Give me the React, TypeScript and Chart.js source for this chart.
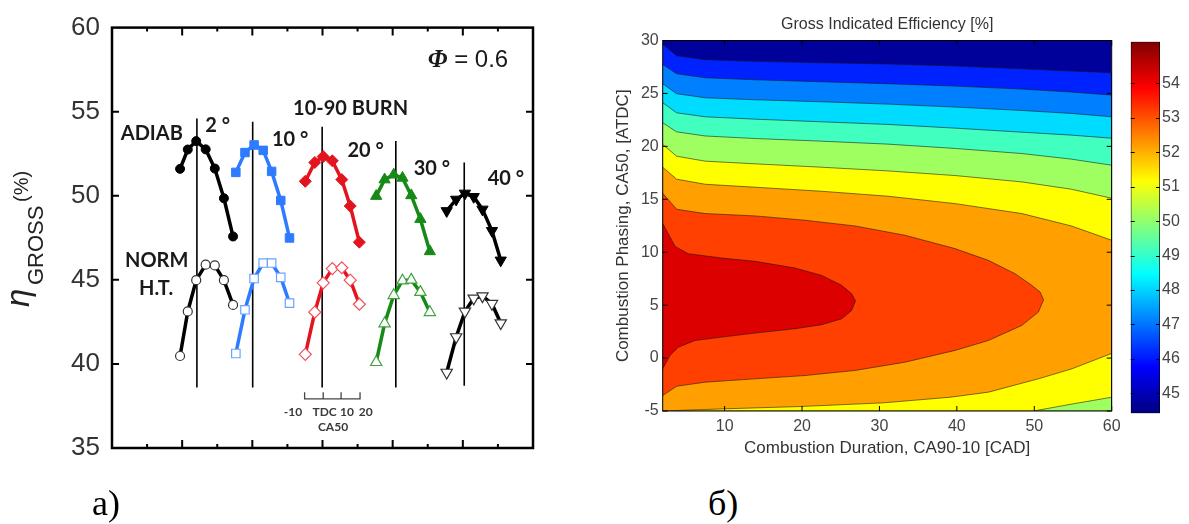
import React, { useEffect, useRef } from 'react';
import { Chart, registerables } from 'chart.js';

Chart.register(...registerables);

// ================= Panel (a) data =================
const A_Y_TICKS = [35, 40, 45, 50, 55, 60];
const A_Y_INNER_TICKS = [40, 45, 50, 55];
const A_X_MAJOR = [2, 4, 6, 8, 10];
const A_X_MINOR = [1, 3, 5, 7, 9, 11];

// x position (panel units) of the CA50 sweep points for each 10-90 burn duration
const X_2 = [1.94, 2.16, 2.4, 2.67, 2.93, 3.19, 3.45];
const X_10 = [3.53, 3.79, 4.05, 4.31, 4.55, 4.81, 5.06];
const X_20 = [5.51, 5.78, 6.02, 6.28, 6.55, 6.79, 7.05];
const X_30 = [7.53, 7.77, 8.03, 8.28, 8.53, 8.79, 9.06];
const X_40 = [9.54, 9.81, 10.06, 10.31, 10.56, 10.83, 11.08];

// adiabatic efficiency (%)
const ADIAB_2 = [51.6, 52.75, 53.25, 52.76, 51.62, 49.85, 47.58];
const ADIAB_10 = [51.39, 52.57, 53.02, 52.7, 51.45, 49.72, 47.49];
const ADIAB_20 = [50.86, 51.98, 52.33, 52.08, 50.96, 49.39, 47.24];
const ADIAB_30 = [49.98, 50.96, 51.25, 51.06, 50.02, 48.61, 46.69];
const ADIAB_40 = [49.1, 49.78, 50.14, 49.94, 49.19, 47.92, 46.16];

// normal heat transfer efficiency (%)
const NORM_2 = [40.47, 43.12, 44.98, 45.9, 45.86, 44.98, 43.51];
const NORM_10 = [40.62, 43.22, 45.08, 46.0, 46.0, 45.15, 43.62];
const NORM_20 = [40.57, 43.08, 44.82, 45.67, 45.72, 44.98, 43.55];
const NORM_30 = [40.1, 42.4, 44.08, 44.95, 45.0, 44.27, 43.07];
const NORM_40 = [39.49, 41.6, 43.12, 43.9, 44.03, 43.58, 42.43];

// TDC reference lines
const TDC_X = [2.42, 4.01, 5.99, 8.09, 10.04];
const TDC_TOP = [54.6, 54.4, 54.1, 53.25, 51.98];
const TDC_BOTTOM = [38.6, 38.6, 38.6, 38.6, 38.7];

// CA50 scale bar
const CA50_SCALE_X = [5.49, 6.02, 6.53, 7.07];
const CA50_SCALE_LABELS = ['-10', 'TDC', '10', '20'];
const CA50_LABEL_X = [5.16, 6.06, 6.7, 7.23];
const CA50_SCALE_BASE = 37.92;
const CA50_SCALE_TOP = 38.31;

const A_LABELS = [
  { text: 'ADIAB', x: 0.25, y: 53.31 },
  { text: '10-90 BURN', x: 5.16, y: 54.78 },
  { text: '2 °', x: 2.66, y: 53.82 },
  { text: '10 °', x: 4.56, y: 52.94 },
  { text: '20 °', x: 6.71, y: 52.29 },
  { text: '30 °', x: 8.6, y: 51.24 },
  { text: '40 °', x: 10.71, y: 50.65 },
  { text: 'NORM', x: 0.37, y: 45.76 },
  { text: 'H.T.', x: 0.77, y: 44.12 },
];

// ================= Panel (b) data =================
const B_X_TICKS = [10, 20, 30, 40, 50, 60];
const B_Y_TICKS = [-5, 0, 5, 10, 15, 20, 25, 30];
const B_X_MIN = 2;
const B_X_MAX = 60;
const B_Y_MIN = -5;
const B_Y_MAX = 30;
const B_TITLE = 'Gross Indicated Efficiency [%]';
const B_X_TITLE = 'Combustion Duration, CA90-10 [CAD]';
const B_Y_TITLE = 'Combustion Phasing, CA50, [ATDC]';

// contour boundaries sampled at these durations (upper band boundaries)
const CONTOUR_X = [2, 3.8, 7.5, 13.9, 22.5, 31.1, 39.8, 48.4, 54.8, 60];
const L1_Y = [29.64, 28.56, 28.19, 28.03, 27.9, 27.78, 27.59, 27.33, 27.11, 26.96];
const L2_Y = [27.74, 26.86, 26.48, 26.29, 26.1, 25.92, 25.69, 25.41, 25.13, 24.84];
const L3_Y = [25.92, 24.97, 24.59, 24.4, 24.21, 23.99, 23.71, 23.39, 23.11, 22.79];
const L4_Y = [24.12, 23.17, 22.79, 22.57, 22.32, 22.07, 21.72, 21.34, 21.06, 20.77];
const L5_Y = [22.23, 21.37, 20.98, 20.74, 20.49, 20.21, 19.8, 19.32, 18.79, 18.22];
const L6_Y = [20.18, 19.07, 18.6, 18.35, 18.03, 17.68, 17.24, 16.64, 15.95, 15.1];
const L7_Y = [18.03, 16.9, 16.42, 16.14, 15.76, 15.29, 14.59, 13.65, 12.48, 11.13];

// lower boundaries (bottom of the map)
const L6_LOW_X = [60, 55.05, 49.89];
const L6_LOW_Y = [-3.7, -4.32, -5];
const L7_LOW_X = [60, 54.84, 50.53, 44.07, 39.12, 30.5, 19.74, 9.79, 2];
const L7_LOW_Y = [0.44, -1.02, -1.96, -3.22, -3.7, -4.23, -4.58, -4.8, -5];

// closed lobes (53 and 54 % levels)
const L8_X = [2, 3.8, 7.47, 13.93, 20.38, 26.84, 33.3, 39.76, 44.07, 47.52, 49.67, 50.75, 51.2,
  50.53, 48.38, 44.07, 39.76, 33.3, 26.84, 20.38, 13.93, 7.47, 3.8, 2];
const L8_Y = [15.57, 14.06, 13.65, 13.43, 13.02, 12.48, 11.6, 10.34, 9.23, 7.97, 6.87, 6.24, 5.5,
  4.35, 3.08, 1.66, 0.72, -0.39, -1.17, -1.65, -1.96, -2.28, -2.66, -3.54];
const L9_X = [2, 3.6, 5.3, 9.62, 13.93, 19.09, 22.54, 25.12, 26.41, 26.9,
  26.41, 25.12, 22.54, 19.09, 13.93, 9.62, 6.17, 4.02, 2.94, 2];
const L9_Y = [12.73, 10.55, 9.86, 9.45, 9.14, 8.51, 7.81, 6.87, 6.08, 5.4,
  4.5, 3.71, 3.15, 2.77, 2.36, 1.98, 1.66, 1.03, 0.25, -1.02];

const REGION_COLORS = ['#00009a', '#0022ff', '#0080ff', '#00dcff', '#40ffbf', '#a0ff60', '#ffff00', '#ffa000', '#ff4000', '#dc0000'];

// colorbar
const CB_MIN = 44.42;
const CB_MAX = 55.21;
const CB_TICKS = [45, 46, 47, 48, 49, 50, 51, 52, 53, 54];
const JET_STOPS: [number, string][] = [
  [0, '#000080'], [0.125, '#0000ff'], [0.375, '#00ffff'], [0.625, '#ffff00'], [0.875, '#ff0000'], [1, '#800000'],
];

// ================= helpers =================
const pts = (xs: number[], ys: number[]) => xs.map((x, i) => ({ x, y: ys[i] }));
const SANS = '"Liberation Sans", Arial, sans-serif';

const SERIES_STYLE = [
  { color: '#000000', open: '#333333', pointStyle: 'circle', rotation: 0, radius: 4.5 },
  { color: '#2e7bff', open: '#6aa3ff', pointStyle: 'rect', rotation: 0, radius: 6 },
  { color: '#e4141e', open: '#f0505a', pointStyle: 'rectRot', rotation: 0, radius: 6 },
  { color: '#168a16', open: '#3fa33f', pointStyle: 'triangle', rotation: 0, radius: 6.5 },
  { color: '#000000', open: '#333333', pointStyle: 'triangle', rotation: 180, radius: 6.5 },
];
const GROUP_X = [X_2, X_10, X_20, X_30, X_40];
const ADIAB = [ADIAB_2, ADIAB_10, ADIAB_20, ADIAB_30, ADIAB_40];
const NORM = [NORM_2, NORM_10, NORM_20, NORM_30, NORM_40];

function buildA() {
  const datasets: any[] = [];
  GROUP_X.forEach((xs, g) => {
    const s = SERIES_STYLE[g];
    datasets.push({
      data: pts(xs, ADIAB[g]), showLine: true, borderColor: s.color, borderWidth: 3.5,
      pointStyle: s.pointStyle, pointRotation: s.rotation, pointRadius: s.radius,
      pointBackgroundColor: s.color, pointBorderColor: s.color, pointBorderWidth: 1,
    });
    datasets.push({
      data: pts(xs, NORM[g]), showLine: true, borderColor: s.color, borderWidth: 3.5,
      pointStyle: s.pointStyle, pointRotation: s.rotation, pointRadius: s.radius,
      pointBackgroundColor: '#ffffff', pointBorderColor: s.open, pointBorderWidth: 1.2,
    });
  });
  TDC_X.forEach((x, i) => {
    datasets.push({
      data: [{ x, y: TDC_TOP[i] }, { x, y: TDC_BOTTOM[i] }], showLine: true,
      borderColor: '#000', borderWidth: 1.6, pointRadius: 0,
    });
  });
  const bar: any[] = [{ x: CA50_SCALE_X[0], y: CA50_SCALE_TOP }, { x: CA50_SCALE_X[0], y: CA50_SCALE_BASE }];
  for (let i = 1; i < CA50_SCALE_X.length; i++) {
    bar.push({ x: CA50_SCALE_X[i], y: CA50_SCALE_BASE }, { x: CA50_SCALE_X[i], y: CA50_SCALE_TOP }, { x: CA50_SCALE_X[i], y: CA50_SCALE_BASE });
  }
  datasets.push({ data: bar, showLine: true, borderColor: '#444', borderWidth: 1.3, pointRadius: 0 });

  const plugin = {
    id: 'panelA',
    afterDatasetsDraw(chart: any) {
      const { ctx, scales: { x, y } } = chart;
      ctx.save();
      ctx.fillStyle = '#1a1a1a';
      ctx.textAlign = 'left';
      ctx.textBaseline = 'alphabetic';
      ctx.font = 'bold 20px Lato, "Open Sans", sans-serif';
      A_LABELS.forEach((l) => ctx.fillText(l.text, x.getPixelForValue(l.x), y.getPixelForValue(l.y)));
      // phi label
      const px = x.getPixelForValue(9.0);
      const py = y.getPixelForValue(57.65);
      ctx.font = 'italic bold 25px "Liberation Serif", serif';
      ctx.fillText('Φ', px, py);
      const w = ctx.measureText('Φ').width;
      ctx.font = '24px ' + SANS;
      ctx.fillText(' = 0.6', px + w, py);
      // CA50 scale labels
      ctx.fillStyle = '#3a3a3a';
      ctx.textAlign = 'center';
      ctx.font = 'bold 12px Lato, sans-serif';
      CA50_LABEL_X.forEach((v, i) => ctx.fillText(CA50_SCALE_LABELS[i], x.getPixelForValue(v), y.getPixelForValue(36.91)));
      ctx.fillText('CA50', x.getPixelForValue(6.3), y.getPixelForValue(36.03));
      ctx.restore();
    },
    afterDraw(chart: any) {
      const { ctx, chartArea: ca, scales: { x, y } } = chart;
      ctx.save();
      ctx.strokeStyle = '#000';
      ctx.lineWidth = 2.5;
      ctx.strokeRect(ca.left, ca.top, ca.width, ca.height);
      ctx.lineWidth = 2;
      ctx.beginPath();
      A_X_MAJOR.forEach((v) => {
        const p = x.getPixelForValue(v);
        ctx.moveTo(p, ca.bottom); ctx.lineTo(p, ca.bottom - 8);
        ctx.moveTo(p, ca.top); ctx.lineTo(p, ca.top + 8);
      });
      A_X_MINOR.forEach((v) => {
        const p = x.getPixelForValue(v);
        ctx.moveTo(p, ca.bottom); ctx.lineTo(p, ca.bottom - 4);
        ctx.moveTo(p, ca.top); ctx.lineTo(p, ca.top + 4);
      });
      A_Y_INNER_TICKS.forEach((v) => {
        const p = y.getPixelForValue(v);
        ctx.moveTo(ca.left, p); ctx.lineTo(ca.left + 7, p);
        ctx.moveTo(ca.right, p); ctx.lineTo(ca.right - 7, p);
      });
      ctx.stroke();
      // y axis title
      ctx.translate(29, 307);
      ctx.rotate(-Math.PI / 2);
      ctx.fillStyle = '#222';
      ctx.textAlign = 'left';
      ctx.textBaseline = 'alphabetic';
      ctx.font = 'italic 33px ' + SANS;
      ctx.fillText('η', 0, 0);
      ctx.font = '22px ' + SANS;
      ctx.fillText('GROSS', 22, 14);
      ctx.font = '20px ' + SANS;
      ctx.fillText('(%)', 105, -1);
      ctx.restore();
    },
  };

  return {
    type: 'scatter',
    data: { datasets },
    options: {
      responsive: false,
      animation: false,
      devicePixelRatio: 1,
      layout: { padding: { left: 0, top: 23, right: 27, bottom: 76 } },
      plugins: { legend: { display: false }, tooltip: { enabled: false } },
      scales: {
        x: { type: 'linear', min: 0, max: 12, display: false },
        y: {
          type: 'linear', min: 35, max: 60,
          afterFit: (s: any) => { s.width = 112; },
          afterBuildTicks: (s: any) => { s.ticks = A_Y_TICKS.map((v) => ({ value: v })); },
          grid: { display: false, drawTicks: false },
          border: { display: false },
          ticks: { font: { family: SANS, size: 26 }, color: '#333', padding: 12 },
        },
      },
    },
    plugins: [plugin],
  };
}

function buildB() {
  const corner = (x: number, y: number) => ({ x, y });
  const band = (ys: number[]) => [...pts(CONTOUR_X, ys), corner(B_X_MAX, B_Y_MIN), corner(B_X_MIN, B_Y_MIN)];
  const polys = [
    [corner(B_X_MIN, B_Y_MAX), corner(B_X_MAX, B_Y_MAX), corner(B_X_MAX, B_Y_MIN), corner(B_X_MIN, B_Y_MIN)],
    band(L1_Y),
    band(L2_Y),
    band(L3_Y),
    band(L4_Y),
    band(L5_Y),
    [...pts(CONTOUR_X, L6_Y), ...pts(L6_LOW_X, L6_LOW_Y), corner(B_X_MIN, B_Y_MIN)],
    [...pts(CONTOUR_X, L7_Y), ...pts(L7_LOW_X, L7_LOW_Y)],
    pts(L8_X, L8_Y),
    pts(L9_X, L9_Y),
  ];
  const datasets = polys.map((p, i) => ({
    data: p,
    showLine: true,
    fill: 'shape',
    backgroundColor: REGION_COLORS[i],
    borderColor: 'rgba(20,20,20,0.7)',
    borderWidth: i === 0 ? 0 : 0.8,
    pointRadius: 0,
    tension: 0,
  })).reverse();

  const plugin = {
    id: 'panelB',
    afterDraw(chart: any) {
      const { ctx, chartArea: ca, scales: { x, y } } = chart;
      ctx.save();
      ctx.strokeStyle = '#000';
      ctx.lineWidth = 1;
      ctx.strokeRect(ca.left, ca.top, ca.width, ca.height);
      ctx.beginPath();
      B_X_TICKS.forEach((v) => {
        const p = x.getPixelForValue(v);
        ctx.moveTo(p, ca.bottom); ctx.lineTo(p, ca.bottom - 5);
        ctx.moveTo(p, ca.top); ctx.lineTo(p, ca.top + 5);
      });
      B_Y_TICKS.forEach((v) => {
        const p = y.getPixelForValue(v);
        ctx.moveTo(ca.left, p); ctx.lineTo(ca.left + 5, p);
        ctx.moveTo(ca.right, p); ctx.lineTo(ca.right - 5, p);
      });
      ctx.stroke();
      ctx.fillStyle = '#333';
      ctx.textAlign = 'center';
      ctx.textBaseline = 'alphabetic';
      const cx = (ca.left + ca.right) / 2;
      ctx.font = '16px ' + SANS;
      ctx.fillText(B_TITLE, cx, 29);
      ctx.font = '17px ' + SANS;
      ctx.fillText(B_X_TITLE, cx, 453);
      ctx.translate(67.5, (ca.top + ca.bottom) / 2);
      ctx.rotate(-Math.PI / 2);
      ctx.fillText(B_Y_TITLE, 0, 0);
      ctx.restore();
    },
  };

  return {
    type: 'scatter',
    data: { datasets },
    options: {
      responsive: false,
      animation: false,
      devicePixelRatio: 1,
      layout: { padding: { left: 42.7, top: 40.5, right: 28.3, bottom: 29 } },
      plugins: { legend: { display: false }, tooltip: { enabled: false } },
      scales: {
        x: {
          type: 'linear', min: B_X_MIN, max: B_X_MAX,
          afterFit: (s: any) => { s.height = 40; },
          afterBuildTicks: (s: any) => { s.ticks = B_X_TICKS.map((v) => ({ value: v })); },
          grid: { display: false, drawTicks: false },
          border: { display: false },
          ticks: { font: { family: SANS, size: 16 }, color: '#444', padding: 6, maxRotation: 0, autoSkip: false },
        },
        y: {
          type: 'linear', min: B_Y_MIN, max: B_Y_MAX,
          afterFit: (s: any) => { s.width = 60; },
          afterBuildTicks: (s: any) => { s.ticks = B_Y_TICKS.map((v) => ({ value: v })); },
          grid: { display: false, drawTicks: false },
          border: { display: false },
          ticks: { font: { family: SANS, size: 16 }, color: '#444', padding: 4, autoSkip: false },
        },
      },
    },
    plugins: [plugin],
  };
}

function buildC() {
  const jetFill = (c: any) => {
    const chart = c.chart;
    const ys = chart.scales && chart.scales.y;
    if (!chart.chartArea || !ys) return '#888';
    const g = chart.ctx.createLinearGradient(0, ys.getPixelForValue(CB_MIN), 0, ys.getPixelForValue(CB_MAX));
    JET_STOPS.forEach(([t, col]) => g.addColorStop(t, col));
    return g;
  };
  const plugin = {
    id: 'cbTicks',
    afterDraw(chart: any) {
      const { ctx, chartArea: ca, scales: { y } } = chart;
      ctx.save();
      ctx.strokeStyle = '#000';
      ctx.lineWidth = 1;
      ctx.beginPath();
      CB_TICKS.forEach((v) => {
        const p = Math.round(y.getPixelForValue(v)) + 0.5;
        ctx.moveTo(ca.left, p); ctx.lineTo(ca.left + 4, p);
        ctx.moveTo(ca.right, p); ctx.lineTo(ca.right - 4, p);
      });
      ctx.stroke();
      ctx.restore();
    },
  };
  return {
    type: 'bar',
    data: {
      labels: [''],
      datasets: [{
        data: [[CB_MIN, CB_MAX]],
        backgroundColor: jetFill,
        borderColor: '#000',
        borderWidth: 1,
        borderSkipped: false,
        barPercentage: 1,
        categoryPercentage: 1,
      }],
    },
    options: {
      responsive: false,
      animation: false,
      devicePixelRatio: 1,
      layout: { padding: { left: 10.7, top: 41.7, right: 0, bottom: 470 - 413.3 } },
      plugins: { legend: { display: false }, tooltip: { enabled: false } },
      scales: {
        x: { display: false },
        y: {
          position: 'right', min: CB_MIN, max: CB_MAX,
          afterFit: (s: any) => { s.width = 29; },
          afterBuildTicks: (s: any) => { s.ticks = CB_TICKS.map((v) => ({ value: v })); },
          grid: { display: false, drawTicks: false },
          border: { display: false },
          ticks: { font: { family: SANS, size: 16 }, color: '#444', padding: 2, autoSkip: false },
        },
      },
    },
    plugins: [plugin],
  };
}

export default function App() {
  const aRef = useRef<HTMLCanvasElement>(null);
  const bRef = useRef<HTMLCanvasElement>(null);
  const cRef = useRef<HTMLCanvasElement>(null);

  useEffect(() => {
    const charts = [
      new Chart(aRef.current as HTMLCanvasElement, buildA() as any),
      new Chart(bRef.current as HTMLCanvasElement, buildB() as any),
      new Chart(cRef.current as HTMLCanvasElement, buildC() as any),
    ];
    return () => charts.forEach((c) => c.destroy());
  }, []);

  const serif = '"Liberation Serif", "Times New Roman", serif';
  return (
    <div style={{ position: 'absolute', left: 0, top: 0, width: 1189, height: 524, background: '#fff', overflow: 'hidden' }}>
      <canvas ref={aRef} width={560} height={524} style={{ position: 'absolute', left: 0, top: 0 }} />
      <canvas ref={bRef} width={580} height={480} style={{ position: 'absolute', left: 560, top: 0 }} />
      <canvas ref={cRef} width={69} height={470} style={{ position: 'absolute', left: 1120, top: 0 }} />
      <div style={{ position: 'absolute', left: 92, top: 485, fontFamily: serif, fontSize: 36, lineHeight: '36px', color: '#000' }}>a)</div>
      <div style={{ position: 'absolute', left: 708, top: 485, fontFamily: serif, fontSize: 36, lineHeight: '36px', color: '#000' }}>б)</div>
    </div>
  );
}
